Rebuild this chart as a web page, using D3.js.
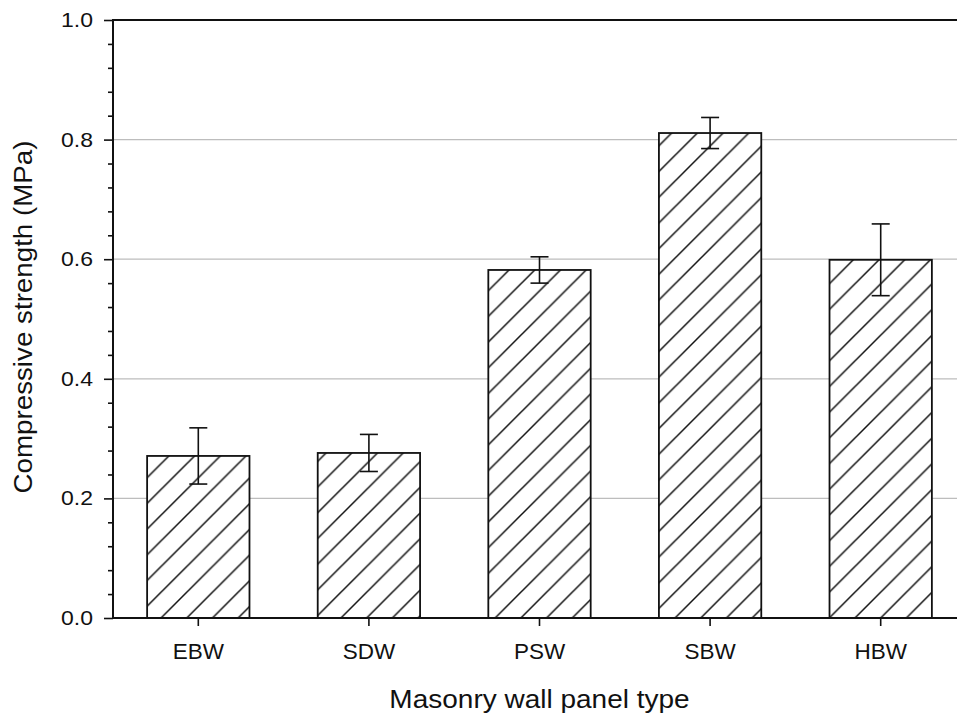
<!DOCTYPE html>
<html>
<head>
<meta charset="utf-8">
<script src="https://cdn.jsdelivr.net/npm/d3@7"></script>
<style>
	body { margin: 0; background: #fff; }
	svg { display: block; }
	text { font-family: "Liberation Sans", Arial, sans-serif; fill: #111; }
</style>
</head>
<body>
<svg id="chart" width="957" height="718"></svg>
<script>
// values
const categories = ["EBW", "SDW", "PSW", "SBW", "HBW"];
const means = [0.271, 0.276, 0.582, 0.811, 0.599];
const errors = [0.047, 0.031, 0.022, 0.026, 0.060];
const majorTicks = [0.0, 0.2, 0.4, 0.6, 0.8, 1.0];
const gridTicks = [0.2, 0.4, 0.6, 0.8];

const svg = d3.select("#chart");
const W = 957;
const plotLeft = 113, plotTop = 20, plotBottom = 618;
// plot runs past the right edge of the picture
const plotRight = 966;

const x = d3.scaleBand()
	.domain(categories)
	.range([plotLeft, plotRight])
	.paddingInner(0.4)
	.paddingOuter(0.2);

const y = d3.scaleLinear()
	.domain([0, 1])
	.range([plotBottom, plotTop]);

const stretch = 1.15; // digits in the picture are a bit wide

// hatch pattern
const p = 25.7;
const pat = svg.append("defs").append("pattern")
	.attr("id", "hatch")
	.attr("patternUnits", "userSpaceOnUse")
	.attr("width", p)
	.attr("height", p)
	.attr("x", 8);
pat.append("path")
	.attr("d", `M0,${p} L${p},0 M${-p/2},${p/2} L${p/2},${-p/2} M${p/2},${p*1.5} L${p*1.5},${p/2}`)
	.attr("stroke", "#111")
	.attr("stroke-width", 1.5)
	.attr("fill", "none");

// grid lines
svg.append("g").selectAll("line")
	.data(gridTicks)
	.enter().append("line")
	.attr("x1", plotLeft).attr("x2", W)
	.attr("y1", d => y(d)).attr("y2", d => y(d))
	.attr("stroke", "#bdbdbd")
	.attr("stroke-width", 1.3);

// bars
const bars = svg.append("g");
bars.selectAll("rect.fill")
	.data(means)
	.enter().append("rect")
	.attr("class", "fill")
	.attr("x", (d, i) => x(categories[i]))
	.attr("y", d => y(d))
	.attr("width", x.bandwidth())
	.attr("height", d => plotBottom - y(d))
	.attr("fill", "#fff");
bars.selectAll("rect.hatch")
	.data(means)
	.enter().append("rect")
	.attr("class", "hatch")
	.attr("x", (d, i) => x(categories[i]))
	.attr("y", d => y(d))
	.attr("width", x.bandwidth())
	.attr("height", d => plotBottom - y(d))
	.attr("fill", "url(#hatch)")
	.attr("stroke", "#111")
	.attr("stroke-width", 1.8);

// error bars
const capW = 18;
const err = svg.append("g").attr("stroke", "#111").attr("stroke-width", 1.6);
means.forEach((m, i) => {
	const cx = x(categories[i]) + x.bandwidth() / 2;
	err.append("line").attr("x1", cx).attr("x2", cx)
		.attr("y1", y(m + errors[i])).attr("y2", y(m - errors[i]));
	err.append("line").attr("x1", cx - capW/2).attr("x2", cx + capW/2)
		.attr("y1", y(m + errors[i])).attr("y2", y(m + errors[i]));
	err.append("line").attr("x1", cx - capW/2).attr("x2", cx + capW/2)
		.attr("y1", y(m - errors[i])).attr("y2", y(m - errors[i]));
});

// y axis, minor then major
const minorTicks = d3.range(0, 1.0001, 0.04).filter(v => Math.abs(v * 5 - Math.round(v * 5)) > 1e-6);
svg.append("g")
	.attr("transform", `translate(${plotLeft},0)`)
	.call(d3.axisLeft(y).tickValues(minorTicks).tickSize(5).tickFormat(""))
	.call(g => g.select(".domain").remove())
	.selectAll("line").attr("stroke", "#111").attr("stroke-width", 1.6);

const yAxis = svg.append("g")
	.attr("transform", `translate(${plotLeft},0)`)
	.call(d3.axisLeft(y).tickValues(majorTicks).tickSize(9).tickPadding(11).tickFormat(d3.format(".1f")));
yAxis.select(".domain").remove();
yAxis.selectAll("line").attr("stroke", "#111").attr("stroke-width", 1.6);
yAxis.selectAll("text")
	.attr("font-size", 20)
	.attr("font-family", "Liberation Sans, Arial, sans-serif")
	.attr("fill", "#111")
	.attr("transform", function() {
		const tx = +d3.select(this).attr("x");
		return `translate(${tx * (1 - stretch)},0) scale(${stretch},1)`;
	});

// x axis ticks
const xAxis = svg.append("g")
	.attr("transform", `translate(0,${plotBottom})`)
	.call(d3.axisBottom(x).tickSize(8).tickSizeOuter(0).tickPadding(17));
xAxis.select(".domain").remove();
xAxis.selectAll("line").attr("stroke", "#111").attr("stroke-width", 1.6);
xAxis.selectAll("text")
	.attr("font-size", 22.5)
	.attr("font-family", "Liberation Sans, Arial, sans-serif")
	.attr("fill", "#111");

// frame lines
svg.append("line")
	.attr("x1", plotLeft).attr("x2", plotLeft).attr("y1", plotTop - 1).attr("y2", plotBottom + 1)
	.attr("stroke", "#111").attr("stroke-width", 2);
svg.append("line")
	.attr("x1", plotLeft).attr("x2", W).attr("y1", plotBottom).attr("y2", plotBottom)
	.attr("stroke", "#111").attr("stroke-width", 2);
svg.append("line")
	.attr("x1", plotLeft).attr("x2", W).attr("y1", plotTop).attr("y2", plotTop)
	.attr("stroke", "#111").attr("stroke-width", 2);

// axis titles
svg.append("text")
	.attr("transform", `translate(${(plotLeft + plotRight) / 2},708) scale(1.12,1)`)
	.attr("text-anchor", "middle")
	.attr("font-size", 25)
	.text("Masonry wall panel type");

svg.append("text")
	.attr("transform", `translate(32,317) rotate(-90) scale(1.11,1)`)
	.attr("text-anchor", "middle")
	.attr("font-size", 25)
	.text("Compressive strength (MPa)");
</script>
</body>
</html>
